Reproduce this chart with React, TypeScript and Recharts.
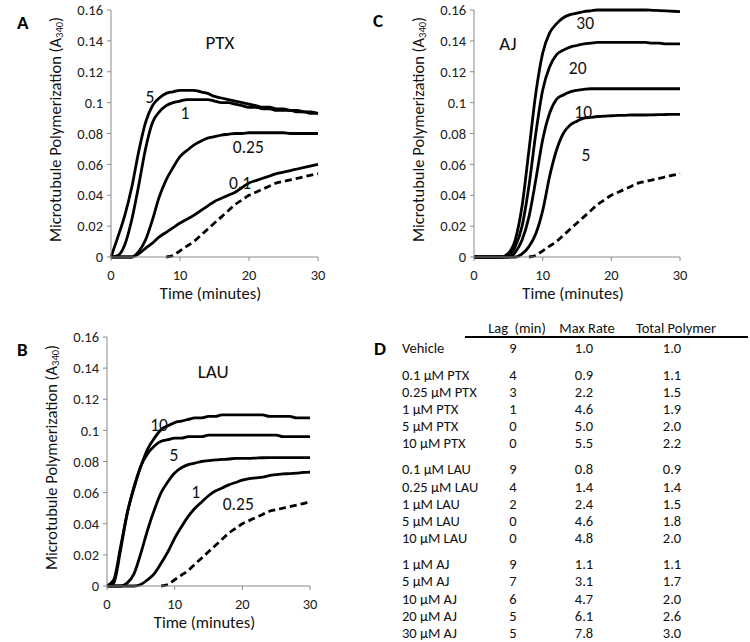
import { LineChart, Line, XAxis, YAxis, ReferenceDot } from "recharts"

const FONT = "Carlito, Calibri, Lato, sans-serif"

const minutes = [0, 1, 2, 3, 4, 5, 6, 7, 8, 9, 10, 11, 12, 13, 14, 15, 16, 17, 18, 19, 20, 21, 22, 23, 24, 25, 26, 27, 28, 29, 30]
const xTicks = [0, 10, 20, 30]
const yTicks = [0, 0.02, 0.04, 0.06, 0.08, 0.1, 0.12, 0.14, 0.16]

// vehicle (dashed) is the same run in every panel
const vehicle = [null, null, null, null, null, null, null, null, 0, 0.001, 0.004, 0.007, 0.01, 0.014, 0.018, 0.022, 0.026, 0.03, 0.034, 0.037, 0.04, 0.042, 0.044, 0.046, 0.048, 0.049, 0.05, 0.051, 0.052, 0.053, 0.054]

// A - PTX
const ptx5 = [0, 0.013, 0.027, 0.045, 0.068, 0.087, 0.098, 0.103, 0.106, 0.107, 0.108, 0.108, 0.108, 0.107, 0.106, 0.104, 0.103, 0.102, 0.101, 0.1, 0.099, 0.098, 0.097, 0.097, 0.096, 0.096, 0.095, 0.095, 0.094, 0.094, 0.093]
const ptx1 = [0, 0.001, 0.008, 0.024, 0.046, 0.07, 0.087, 0.094, 0.098, 0.1, 0.101, 0.102, 0.102, 0.102, 0.102, 0.101, 0.1, 0.1, 0.099, 0.098, 0.097, 0.097, 0.096, 0.096, 0.095, 0.095, 0.095, 0.094, 0.094, 0.093, 0.093]
const ptx025 = [0, 0, 0, 0, 0.0035, 0.011, 0.024, 0.039, 0.05, 0.058, 0.065, 0.069, 0.0725, 0.075, 0.077, 0.078, 0.079, 0.0795, 0.08, 0.08, 0.0805, 0.0805, 0.0805, 0.0805, 0.0805, 0.0805, 0.08, 0.08, 0.08, 0.08, 0.08]
const ptx01 = [0, 0, 0, 0, 0.002, 0.0056, 0.009, 0.013, 0.016, 0.019, 0.022, 0.0245, 0.027, 0.03, 0.033, 0.036, 0.038, 0.04, 0.042, 0.045, 0.048, 0.0495, 0.051, 0.0525, 0.054, 0.055, 0.056, 0.057, 0.058, 0.059, 0.06]

// B - LAU
const lau10 = [0, 0.004, 0.025, 0.047, 0.064, 0.077, 0.088, 0.095, 0.1005, 0.103, 0.105, 0.106, 0.107, 0.108, 0.108, 0.109, 0.109, 0.11, 0.11, 0.11, 0.11, 0.11, 0.11, 0.11, 0.109, 0.109, 0.109, 0.109, 0.108, 0.108, 0.108]
const lau5 = [0, 0.002, 0.023, 0.047, 0.063, 0.077, 0.085, 0.09, 0.093, 0.094, 0.095, 0.095, 0.096, 0.096, 0.096, 0.097, 0.097, 0.097, 0.097, 0.097, 0.097, 0.097, 0.097, 0.097, 0.097, 0.097, 0.096, 0.096, 0.096, 0.096, 0.096]
const lau1 = [0, 0, 0, 0.002, 0.008, 0.021, 0.036, 0.049, 0.06, 0.067, 0.0726, 0.076, 0.078, 0.079, 0.08, 0.0805, 0.081, 0.0813, 0.0816, 0.082, 0.082, 0.082, 0.0822, 0.0824, 0.0825, 0.0825, 0.0825, 0.0825, 0.0825, 0.0825, 0.0825]
const lau025 = [0, 0, 0, 0, 0, 0.001, 0.004, 0.008, 0.0146, 0.022, 0.0307, 0.038, 0.0447, 0.05, 0.054, 0.058, 0.061, 0.063, 0.065, 0.0665, 0.068, 0.069, 0.0695, 0.07, 0.071, 0.0715, 0.072, 0.0722, 0.0725, 0.073, 0.0732]

// C - AJ
const aj30 = [0, 0, 0, 0, 0, 0.0024, 0.011, 0.033, 0.069, 0.106, 0.132, 0.145, 0.151, 0.155, 0.157, 0.158, 0.159, 0.1595, 0.16, 0.16, 0.16, 0.16, 0.16, 0.16, 0.16, 0.16, 0.1598, 0.1596, 0.1594, 0.1592, 0.159]
const aj20 = [0, 0, 0, 0, 0, 0.001, 0.0067, 0.02, 0.046, 0.08, 0.108, 0.123, 0.131, 0.134, 0.136, 0.137, 0.138, 0.1385, 0.139, 0.139, 0.139, 0.139, 0.139, 0.139, 0.139, 0.139, 0.1385, 0.1385, 0.138, 0.138, 0.138]
const aj10 = [0, 0, 0, 0, 0, 0, 0.003, 0.011, 0.026, 0.05, 0.076, 0.093, 0.102, 0.105, 0.107, 0.108, 0.1086, 0.109, 0.109, 0.109, 0.109, 0.109, 0.109, 0.109, 0.109, 0.109, 0.109, 0.109, 0.109, 0.109, 0.109]
const aj5 = [0, 0, 0, 0, 0, 0, 0, 0.002, 0.0067, 0.015, 0.03, 0.052, 0.069, 0.08, 0.0855, 0.088, 0.09, 0.0905, 0.091, 0.0912, 0.0915, 0.0917, 0.0918, 0.092, 0.092, 0.092, 0.0921, 0.0922, 0.0923, 0.0924, 0.0924]

// text placed at data coords: [text, minute, absorbance]
const ptxNotes: [string, number, number][] = [["PTX", 15.8, 0.139], ["5", 5.65, 0.1036], ["1", 10.7, 0.0933], ["0.25", 19.9, 0.0712], ["0.1", 18.7, 0.048]]
const lauNotes: [string, number, number][] = [["LAU", 15.7, 0.138], ["10", 7.7, 0.1035], ["5", 9.9, 0.0842], ["1", 13.1, 0.0606], ["0.25", 19.4, 0.053]]
const ajNotes: [string, number, number][] = [["AJ", 4.95, 0.1386], ["30", 16.2, 0.1516], ["20", 15.1, 0.1224], ["10", 15.9, 0.094], ["5", 16.3, 0.066]]

// D - table
const tableNames = ["Vehicle", "0.1 μM PTX", "0.25 μM PTX", "1 μM PTX", "5 μM PTX", "10 μM PTX", "0.1 μM LAU", "0.25 μM LAU", "1 μM LAU", "5 μM LAU", "10 μM LAU", "1 μM AJ", "5 μM AJ", "10 μM AJ", "20 μM AJ", "30 μM AJ"]
const lagMin = [9, 4, 3, 1, 0, 0, 9, 4, 2, 0, 0, 9, 7, 6, 5, 5]
const maxRate = [1.0, 0.9, 2.2, 4.6, 5.0, 5.5, 0.8, 1.4, 2.4, 4.6, 4.8, 1.1, 3.1, 4.7, 6.1, 7.8]
const totalPolymer = [1.0, 1.1, 1.5, 1.9, 2.0, 2.2, 0.9, 1.4, 1.5, 1.8, 2.0, 1.1, 1.7, 2.0, 2.6, 3.0]

const AXIS = "#8a8a8a"

function YTitle({ viewBox }: any) {
  const cx = viewBox.x + viewBox.width - 56
  const cy = viewBox.y + viewBox.height / 2 - 4
  return (
    <text x={cx} y={cy} transform={`rotate(-90 ${cx} ${cy})`} textAnchor="middle" dominantBaseline="central" fontSize={16.5} fontFamily={FONT} fill="#111">
      Microtubule Polymerization (A<tspan fontSize={10.5} dy={4}>340</tspan>
      <tspan dy={-4}>)</tspan>
    </text>
  )
}

function XTitle({ viewBox }: any) {
  return (
    <text x={viewBox.x + viewBox.width / 2 - 4} y={viewBox.y + 36} textAnchor="middle" dominantBaseline="central" fontSize={16.5} fontFamily={FONT} fill="#111">
      Time (minutes)
    </text>
  )
}

function Panel({ left, top, height, yWidth, right, bottom, curves, notes }: any) {
  const rows = minutes.map((t, i) => {
    const r: any = { t, vehicle: vehicle[i] }
    curves.forEach((c: number[], k: number) => (r["c" + k] = c[i]))
    return r
  })
  return (
    <div style={{ position: "absolute", left, top }}>
      <LineChart width={330} height={height} data={rows} margin={{ top: 10, right, left: 0, bottom }}>
        <XAxis
          dataKey="t"
          type="number"
          domain={[0, 30]}
          ticks={xTicks}
          height={30}
          stroke={AXIS}
          tickSize={4}
          tickMargin={9}
          tick={{ fill: "#222", fontSize: 14.5, fontFamily: FONT }}
          label={(p: any) => <XTitle viewBox={p.viewBox} />}
        />
        <YAxis
          type="number"
          domain={[0, 0.16]}
          ticks={yTicks}
          width={yWidth}
          stroke={AXIS}
          tickSize={4}
          tickMargin={4}
          tick={{ fill: "#222", fontSize: 14.5, fontFamily: FONT }}
          label={(p: any) => <YTitle viewBox={p.viewBox} />}
        />
        {curves.map((_: number[], k: number) => (
          <Line key={k} dataKey={"c" + k} type="monotone" stroke="#000" strokeWidth={2.8} dot={false} isAnimationActive={false} />
        ))}
        <Line dataKey="vehicle" type="monotone" stroke="#000" strokeWidth={2.8} strokeDasharray="7 4" dot={false} isAnimationActive={false} />
        {notes.map(([text, t, v]: [string, number, number], k: number) => (
          <ReferenceDot
            key={k}
            x={t}
            y={v}
            r={0}
            stroke="none"
            label={{ value: text, position: "center", fontSize: k === 0 ? 19 : 17.5, fill: "#111", fontFamily: FONT }}
          />
        ))}
      </LineChart>
    </div>
  )
}

const letter = (ch: string, x: number, y: number) => (
  <div style={{ position: "absolute", left: x, top: y, fontSize: 19, fontWeight: 700, fontFamily: FONT, lineHeight: "19px" }}>{ch}</div>
)

function Table() {
  let group = 0
  const rows = tableNames.map((name, i) => {
    if (i > 0 && name.split(" ").pop() !== tableNames[i - 1].split(" ").pop()) group++
    const y = 348 + i * 17.1 + group * 9.4
    const cell = (txt: string, cx: number) => (
      <div style={{ position: "absolute", left: cx - 40, width: 80, top: y - 9, textAlign: "center", lineHeight: "18px" }}>{txt}</div>
    )
    return (
      <div key={name}>
        <div style={{ position: "absolute", left: 402, top: y - 9, lineHeight: "18px", whiteSpace: "nowrap" }}>{name}</div>
        {cell(String(lagMin[i]), 513)}
        {cell(maxRate[i].toFixed(1), 584)}
        {cell(totalPolymer[i].toFixed(1), 672)}
      </div>
    )
  })
  return (
    <div style={{ fontFamily: FONT, fontSize: 14.5, color: "#111" }}>
      {[["Lag  (min)", 517], ["Max Rate", 587], ["Total Polymer", 676]].map(([h, cx]: any) => (
        <div key={h} style={{ position: "absolute", left: cx - 60, width: 120, top: 319, textAlign: "center", lineHeight: "18px", whiteSpace: "pre" }}>{h}</div>
      ))}
      <div style={{ position: "absolute", left: 465, top: 336, width: 283, height: 1.5, background: "#000" }} />
      {rows}
    </div>
  )
}

export default function App() {
  return (
    <div style={{ position: "absolute", left: 0, top: 0, width: 750, height: 642, background: "#fff", overflow: "hidden" }}>
      <Panel left={0} top={0} height={310} yWidth={111} right={12} bottom={23} curves={[ptx5, ptx1, ptx025, ptx01]} notes={ptxNotes} />
      <Panel left={364} top={0} height={310} yWidth={110} right={14} bottom={23} curves={[aj30, aj20, aj10, aj5]} notes={ajNotes} />
      <Panel left={0} top={327} height={310} yWidth={107} right={20} bottom={21} curves={[lau10, lau5, lau1, lau025]} notes={lauNotes} />
      {letter("A", 17, 13)}
      {letter("C", 373, 11)}
      {letter("B", 17, 340)}
      {letter("D", 374, 339)}
      <Table />
    </div>
  )
}
